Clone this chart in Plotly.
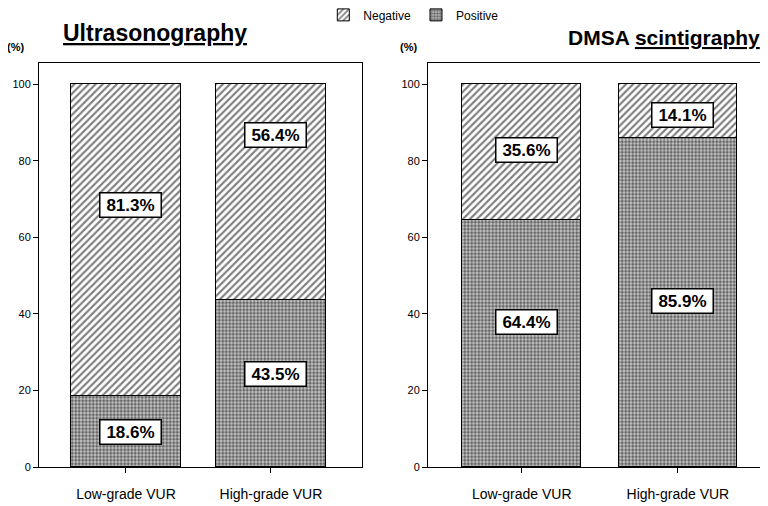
import plotly.graph_objects as go

categories = ["Low-grade VUR", "High-grade VUR"]
us_positive = [18.6, 43.5]
us_negative = [81.3, 56.4]
dmsa_positive = [64.4, 85.9]
dmsa_negative = [35.6, 14.1]
y_ticks = [0, 20, 40, 60, 80, 100]

# label anchor heights (layout only)
us_label_y_pos = [9.1, 24.3]
us_label_y_neg = [68.4, 86.7]
dmsa_label_y_pos = [37.9, 43.3]
dmsa_label_y_neg = [82.8, 91.9]

FONT = "Liberation Sans, Arial, sans-serif"
neg_pattern = dict(shape="/", fgcolor="black", bgcolor="white", size=5, solidity=0.42)
pos_pattern = dict(shape=".", fgcolor="black", bgcolor="#c8c8c8", size=3.5, solidity=0.55)

fig = go.Figure()
xs = [0, 1]
fig.add_bar(x=xs, y=us_positive, name="Positive", marker=dict(color="white", pattern=pos_pattern, line=dict(color="black", width=1)),
            width=0.76, xaxis="x", yaxis="y", showlegend=False)
fig.add_bar(x=xs, y=us_negative, name="Negative", marker=dict(color="white", pattern=neg_pattern, line=dict(color="black", width=1)),
            width=0.76, xaxis="x", yaxis="y", showlegend=False)
fig.add_bar(x=xs, y=dmsa_positive, name="Positive", marker=dict(color="white", pattern=pos_pattern, line=dict(color="black", width=1)),
            width=0.76, xaxis="x2", yaxis="y2", showlegend=False)
fig.add_bar(x=xs, y=dmsa_negative, name="Negative", marker=dict(color="white", pattern=neg_pattern, line=dict(color="black", width=1)),
            width=0.76, xaxis="x2", yaxis="y2", showlegend=False)
# legend entries
fig.add_bar(x=[None], y=[None], name="Negative", marker=dict(color="white", pattern=neg_pattern, line=dict(color="black", width=1)),
            xaxis="x", yaxis="y")
fig.add_bar(x=[None], y=[None], name="Positive", marker=dict(color="white", pattern=pos_pattern, line=dict(color="black", width=1)),
            xaxis="x", yaxis="y")

axis_common = dict(showline=True, linecolor="black", linewidth=1, ticks="outside", ticklen=5,
                   tickcolor="black", showgrid=False, zeroline=False,
                   tickfont=dict(family=FONT, size=14, color="black"))

fig.update_layout(
    width=760, height=498,
    margin=dict(l=31, r=0, t=55, b=39, autoexpand=False),
    paper_bgcolor="white", plot_bgcolor="white",
    barmode="stack", bargap=0,
    font=dict(family=FONT, color="black"),
    xaxis=dict(domain=[0, 0.443], range=[-0.6, 1.628], tickvals=xs, ticktext=categories,
               mirror=True, ticklabelstandoff=9, automargin=False, **axis_common),
    yaxis=dict(domain=[0, 1], range=[0, 105.5], tickvals=y_ticks, mirror=True, automargin=False,
               **{**axis_common, "tickfont": dict(family=FONT, size=11, color="black")}),
    xaxis2=dict(domain=[0.5336, 1], range=[-0.6, 1.577], tickvals=xs, ticktext=categories,
                anchor="y2", mirror=True, ticklabelstandoff=9, automargin=False, **axis_common),
    yaxis2=dict(domain=[0, 1], range=[0, 105.5], tickvals=y_ticks, anchor="x2", automargin=False,
                **{**axis_common, "tickfont": dict(family=FONT, size=11, color="black")}),
    legend=dict(orientation="h", x=0.39, y=1.155, xanchor="left", yanchor="top",
                traceorder="normal",
                font=dict(family=FONT, size=12), itemwidth=30, tracegroupgap=0,
                bgcolor="rgba(0,0,0,0)"),
)

ann = []
def box(x, y, text, xref, yref):
    ann.append(dict(x=x, y=y, xref=xref, yref=yref, text="<b>%s</b>" % text, showarrow=False,
                    font=dict(family=FONT, size=17, color="black"), bgcolor="white",
                    width=54, height=17, xanchor="center", yanchor="middle",
                    bordercolor="black", borderwidth=1.5, borderpad=3))

for i in range(2):
    box(xs[i] + 0.03, us_label_y_neg[i], "%.1f%%" % us_negative[i], "x", "y")
    box(xs[i] + 0.03, us_label_y_pos[i], "%.1f%%" % us_positive[i], "x", "y")
    box(xs[i] + 0.03, dmsa_label_y_neg[i], "%.1f%%" % dmsa_negative[i], "x2", "y2")
    box(xs[i] + 0.03, dmsa_label_y_pos[i], "%.1f%%" % dmsa_positive[i], "x2", "y2")

ann.append(dict(x=0.159, y=1.074, xref="paper", yref="paper", text="<b><u>Ultrasonography</u></b>",
                xanchor="center", yanchor="middle",
                showarrow=False, font=dict(family=FONT, size=23, color="black")))
ann.append(dict(x=0.857, y=1.062, xref="paper", yref="paper", text="<b>DMSA <u>scintigraphy</u></b>",
                xanchor="center", yanchor="middle",
                showarrow=False, font=dict(family=FONT, size=21, color="black")))
ann.append(dict(x=-0.0316, y=1.04, xref="paper", yref="paper", text="<b>(%)</b>",
                xanchor="center", yanchor="middle",
                showarrow=False, font=dict(family=FONT, size=11, color="black")))
ann.append(dict(x=0.5075, y=1.04, xref="paper", yref="paper", text="<b>(%)</b>",
                xanchor="center", yanchor="middle",
                showarrow=False, font=dict(family=FONT, size=11, color="black")))
fig.update_layout(annotations=ann)

fig.write_html("out.html")
